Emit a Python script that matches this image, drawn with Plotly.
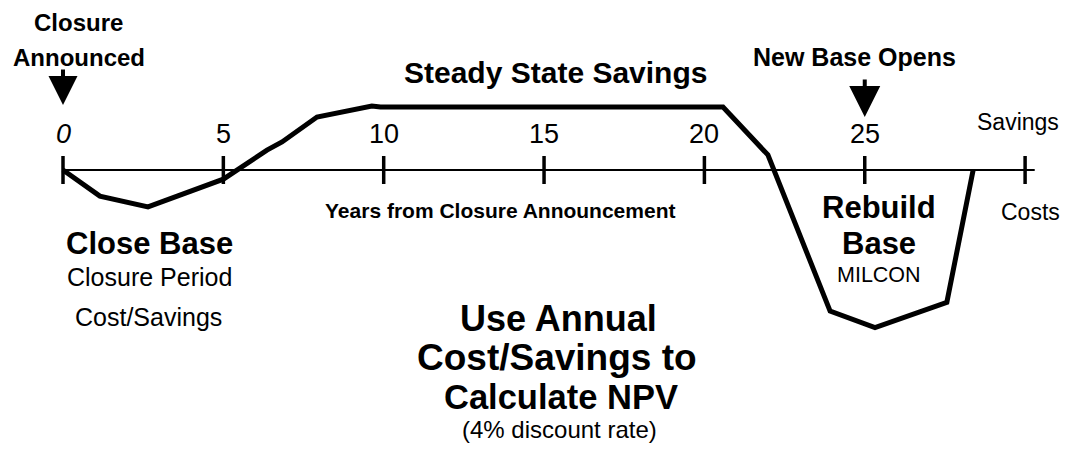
import plotly.graph_objects as go

# ---- data (years from closure announcement, annual cost(-)/savings(+), arbitrary units) ----
years = [0, 1.15, 2.65, 5.0, 6.36, 6.83, 7.92, 9.63, 9.9, 20.58, 21.98, 23.92, 25.32, 27.56, 28.38]
cash_flow = [0, -0.83, -1.17, -0.29, 0.63, 0.89, 1.68, 2.03, 2.0, 2.0, 0.48, -4.48, -5.0, -4.2, 0]

tick_years = [0, 5, 10, 15, 20, 25, 30]
tick_labels = ["<i>0</i>", "5", "10", "15", "20", "25", ""]
axis_span = [-0.03, 30.3]

# event markers: (year, arrow tip value)
closure_year, closure_tip = 0, 2.06
opening_year, opening_tip = 25, 1.68

# page body has an 8px margin: figure is sized to fit inside the window
OFF = 8
W, H = 1068 - 2 * OFF, 452 - 2 * OFF
FONT = "Liberation Sans, Arial, Helvetica, sans-serif"

fig = go.Figure()

# horizontal time axis (zero line)
fig.add_trace(go.Scatter(x=axis_span, y=[0, 0], mode="lines",
                         line=dict(color="black", width=2), hoverinfo="skip"))
# tick marks crossing the axis
fig.add_trace(go.Scatter(x=tick_years, y=[0] * len(tick_years), mode="markers",
                         marker=dict(symbol="line-ns", size=20,
                                     line=dict(color="black", width=3.5)),
                         hoverinfo="skip"))
# cash flow profile
fig.add_trace(go.Scatter(x=years, y=cash_flow, mode="lines",
                         line=dict(color="black", width=5), hoverinfo="skip"))


def txt(x, y, text, size, bold=False):
    xp, yp = (x - OFF) / W, 1 - (y - OFF) / H
    fig.add_annotation(x=xp, y=yp, xref="paper", yref="paper",
                       text=("<b>%s</b>" % text) if bold else text,
                       showarrow=False, xanchor="center", yanchor="middle",
                       font=dict(family=FONT, size=size, color="black"))


# tick labels (placed above the axis at each tick year)
for ty, tl in zip(tick_years, tick_labels):
    if tl:
        fig.add_annotation(x=ty, y=0, xref="x", yref="y", text=tl, showarrow=False,
                           xanchor="center", yanchor="middle", yshift=36,
                           font=dict(family=FONT, size=27, color="black"))

# arrows
fig.add_annotation(x=closure_year, y=closure_tip, xref="x", yref="y", text="", showarrow=True,
                   ax=0, ay=-37, arrowhead=2, arrowsize=1.45, arrowwidth=4, arrowcolor="black")
fig.add_annotation(x=opening_year, y=opening_tip, xref="x", yref="y", text="", showarrow=True,
                   ax=0, ay=-39, arrowhead=2, arrowsize=1.55, arrowwidth=4, arrowcolor="black")

# text labels
txt(78, 23, "Closure", 24, True)
txt(79, 57, "Announced", 24, True)
txt(555, 72, "Steady State Savings", 30, True)
txt(854, 57, "New Base Opens", 25, True)
txt(1018, 122, "Savings", 23)
txt(1030, 212, "Costs", 23)
txt(500, 210, "Years from Closure Announcement", 21, True)
txt(149, 243, "Close Base", 31, True)
txt(149, 277, "Closure Period", 25)
txt(148, 317, "Cost/Savings", 25)
txt(879, 207, "Rebuild", 31, True)
txt(879, 243, "Base", 31, True)
txt(879, 275, "MILCON", 21.5)
txt(558, 318, "Use Annual", 36, True)
txt(557, 357, "Cost/Savings to", 37, True)
txt(561, 397, "Calculate NPV", 34.5, True)
txt(559, 429, "(4% discount rate)", 24)

fig.update_layout(
    width=W, height=H,
    margin=dict(l=0, r=0, t=0, b=0),
    paper_bgcolor="white", plot_bgcolor="white",
    showlegend=False,
    xaxis=dict(range=[-55 / 32.07, (W - 55) / 32.07], visible=False, fixedrange=True),
    yaxis=dict(range=[(162 - H) / 31.5, 162 / 31.5], visible=False, fixedrange=True),
)

fig.write_html("out.html")
